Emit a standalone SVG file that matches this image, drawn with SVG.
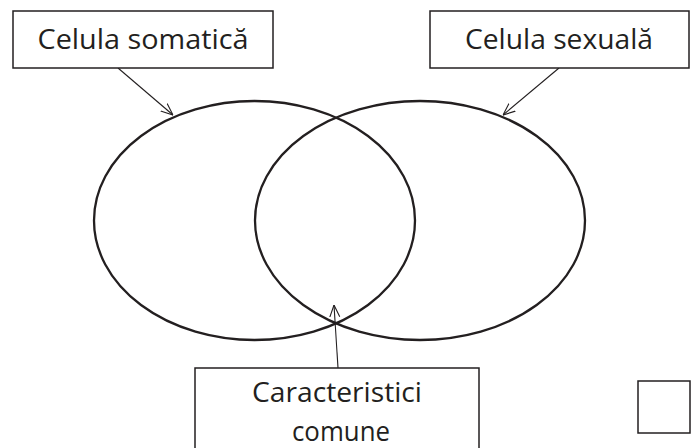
<svg xmlns="http://www.w3.org/2000/svg" width="696" height="448" viewBox="0 0 696 448">
<style>
.box{fill:#fff;stroke:#231f20;stroke-width:1.5}
.lbl{font-family:"Open Sans","Liberation Sans",sans-serif;font-size:28px;fill:#231f20;text-anchor:middle}
.ell{fill:none;stroke:#231f20;stroke-width:2.3}
.con{stroke:#231f20;stroke-width:1.1;fill:none;marker-end:url(#arr)}
</style>
<defs>
<marker id="arr" viewBox="0 0 12 12" refX="12" refY="6" markerWidth="12" markerHeight="12" markerUnits="userSpaceOnUse" orient="auto">
<path d="M0,1 L12,6 L0,11" fill="none" stroke="#231f20" stroke-width="1.1"/>
</marker>
</defs>
<rect width="696" height="448" fill="#fff"/>
<g id="ellipses">
<ellipse class="ell" cx="254.5" cy="220.5" rx="160.5" ry="119.5"/>
<ellipse class="ell" cx="420" cy="220.5" rx="165" ry="119.5"/>
</g>
<g id="connectors">
<line class="con" x1="118" y1="68" x2="173" y2="115"/>
<line class="con" x1="559" y1="68" x2="503" y2="115"/>
<line class="con" x1="338" y1="368" x2="334" y2="305"/>
</g>
<g id="node-somatica">
<rect class="box" x="13" y="11" width="260" height="57"/>
<text class="lbl" x="143" y="49" textLength="211" lengthAdjust="spacingAndGlyphs">Celula somatică</text>
</g>
<g id="node-sexuala">
<rect class="box" x="430" y="11" width="259" height="57"/>
<text class="lbl" x="559" y="49" textLength="188" lengthAdjust="spacingAndGlyphs">Celula sexuală</text>
</g>
<g id="node-comune">
<rect class="box" x="195" y="368" width="284" height="90"/>
<text class="lbl" x="337" y="402" textLength="170" lengthAdjust="spacingAndGlyphs">Caracteristici</text>
<text class="lbl" x="341" y="441" textLength="98" lengthAdjust="spacingAndGlyphs">comune</text>
</g>
<g id="node-empty">
<rect class="box" x="638" y="381" width="52" height="52" stroke="#444"/>
</g>
</svg>
